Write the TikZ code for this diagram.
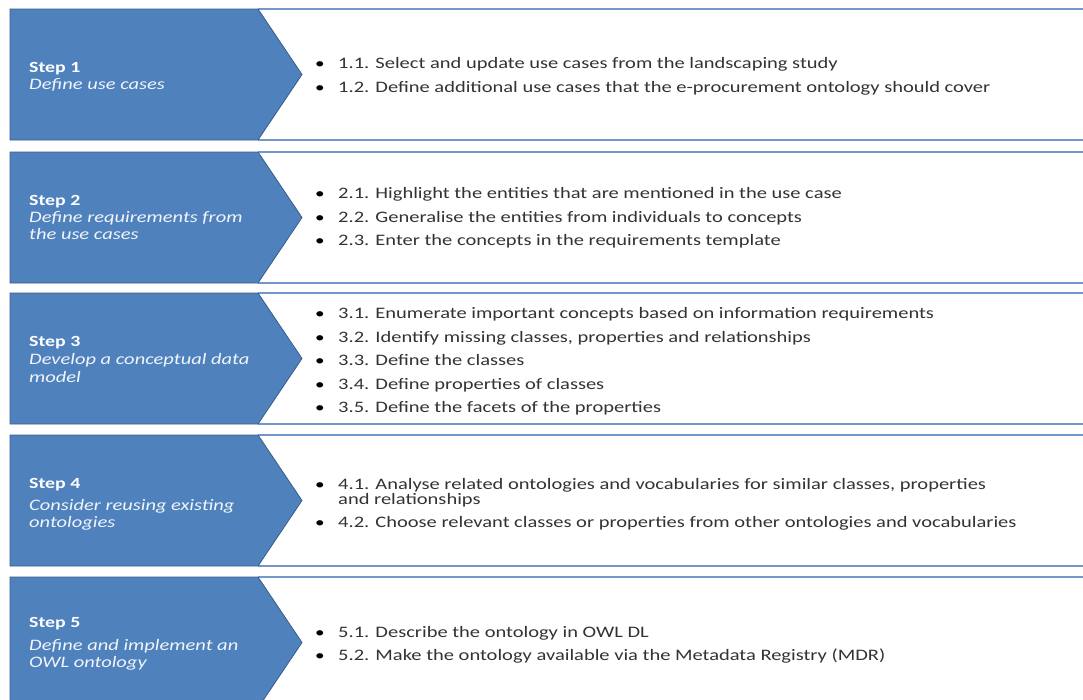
\documentclass[tikz,border=0pt]{standalone}
\usepackage{fontspec}
\setmainfont{Carlito}[FakeStretch=1.28]
\definecolor{chevfill}{HTML}{4F81BD}
\definecolor{chevline}{HTML}{385D8A}
\definecolor{boxline}{HTML}{7396CB}
\definecolor{txt}{HTML}{333333}
\tikzset{
  chev/.style={fill=chevfill,draw=chevline,line width=0.8pt},
  boxln/.style={draw=boxline,line width=1.6pt},
  steplabel/.style={anchor=base west,inner sep=0pt,text=white,font=\fontsize{15.5}{16}\selectfont\bfseries},
  stepsub/.style={anchor=base west,inner sep=0pt,text=white!92!chevfill,font=\fontsize{16}{16}\selectfont\itshape},
  itemtxt/.style={anchor=base west,inner sep=0pt,text=txt,font=\fontsize{16}{16}\selectfont},
  bul/.style={anchor=base,inner sep=0pt,text=black,font=\fontsize{15}{16}\selectfont},
}
\begin{document}
\begin{tikzpicture}[x=1pt,y=-1pt]
\useasboundingbox (0,0) rectangle (1083,699);
\fill[white] (0,0) rectangle (1083,699);
\clip (0,0) rectangle (1083,699);
% rows
\foreach \T in {9,152,293,435,577}{
  \draw[boxln] (258,\T) -- (1090,\T);
  \draw[boxln] (258,\T+131) -- (1090,\T+131);
  \draw[chev] (10,\T) -- (258,\T) -- (302,\T+65.5) -- (258,\T+131) -- (10,\T+131) -- cycle;
}
% Step 1
\node[steplabel] (s1) at (29,72) {Step 1};
\node[stepsub] (s1a) at (29,89) {Define use cases};
\node[bul] (b11) at (320,68) {\textbullet};
\node[itemtxt] (i11) at (338,68) {1.1. Select and update use cases from the landscaping study};
\node[bul] (b12) at (320,92) {\textbullet};
\node[itemtxt] (i12) at (338,92) {1.2. Define additional use cases that the e-procurement ontology should cover};
% Step 2
\node[steplabel] (s2) at (29,205) {Step 2};
\node[stepsub] (s2a) at (29,222) {Define requirements from};
\node[stepsub] (s2b) at (29,239) {the use cases};
\node[bul] (b21) at (320,198) {\textbullet};
\node[itemtxt] (i21) at (338,198) {2.1. Highlight the entities that are mentioned in the use case};
\node[bul] (b22) at (320,222) {\textbullet};
\node[itemtxt] (i22) at (338,222) {2.2. Generalise the entities\ from individuals to concepts};
\node[bul] (b23) at (320,245) {\textbullet};
\node[itemtxt] (i23) at (338,245) {2.3. Enter the concepts in the requirements template};
% Step 3
\node[steplabel] (s3) at (29,346) {Step 3};
\node[stepsub] (s3a) at (29,364) {Develop a conceptual data};
\node[stepsub] (s3b) at (29,382) {model};
\node[bul] (b31) at (320,318) {\textbullet};
\node[itemtxt] (i31) at (338,318) {3.1. Enumerate important concepts based on information requirements};
\node[bul] (b32) at (320,342) {\textbullet};
\node[itemtxt] (i32) at (338,342) {3.2. Identify missing classes, properties and relationships};
\node[bul] (b33) at (320,365) {\textbullet};
\node[itemtxt] (i33) at (338,365) {3.3. Define the classes};
\node[bul] (b34) at (320,389) {\textbullet};
\node[itemtxt] (i34) at (338,389) {3.4. Define properties of classes};
\node[bul] (b35) at (320,412) {\textbullet};
\node[itemtxt] (i35) at (338,412) {3.5. Define the facets of the properties};
% Step 4
\node[steplabel] (s4) at (29,488) {Step 4};
\node[stepsub] (s4a) at (29,510) {Consider reusing existing};
\node[stepsub] (s4b) at (29,527) {ontologies};
\node[bul] (b41) at (320,489) {\textbullet};
\node[itemtxt] (i41) at (338,489) {4.1. Analyse related ontologies and vocabularies for similar classes, properties};
\node[itemtxt] (i41b) at (338,504) {and relationships};
\node[bul] (b42) at (320,527) {\textbullet};
\node[itemtxt] (i42) at (338,527) {4.2. Choose relevant classes or properties from other ontologies and vocabularies};
% Step 5
\node[steplabel] (s5) at (29,627) {Step 5};
\node[stepsub] (s5a) at (29,650) {Define and implement an};
\node[stepsub] (s5b) at (29,667) {OWL ontology};
\node[bul] (b51) at (320,637) {\textbullet};
\node[itemtxt] (i51) at (338,637) {5.1. Describe the ontology in OWL DL};
\node[bul] (b52) at (320,660) {\textbullet};
\node[itemtxt] (i52) at (338,660) {5.2. Make the ontology available via the Metadata Registry (MDR)};
\end{tikzpicture}
\end{document}
